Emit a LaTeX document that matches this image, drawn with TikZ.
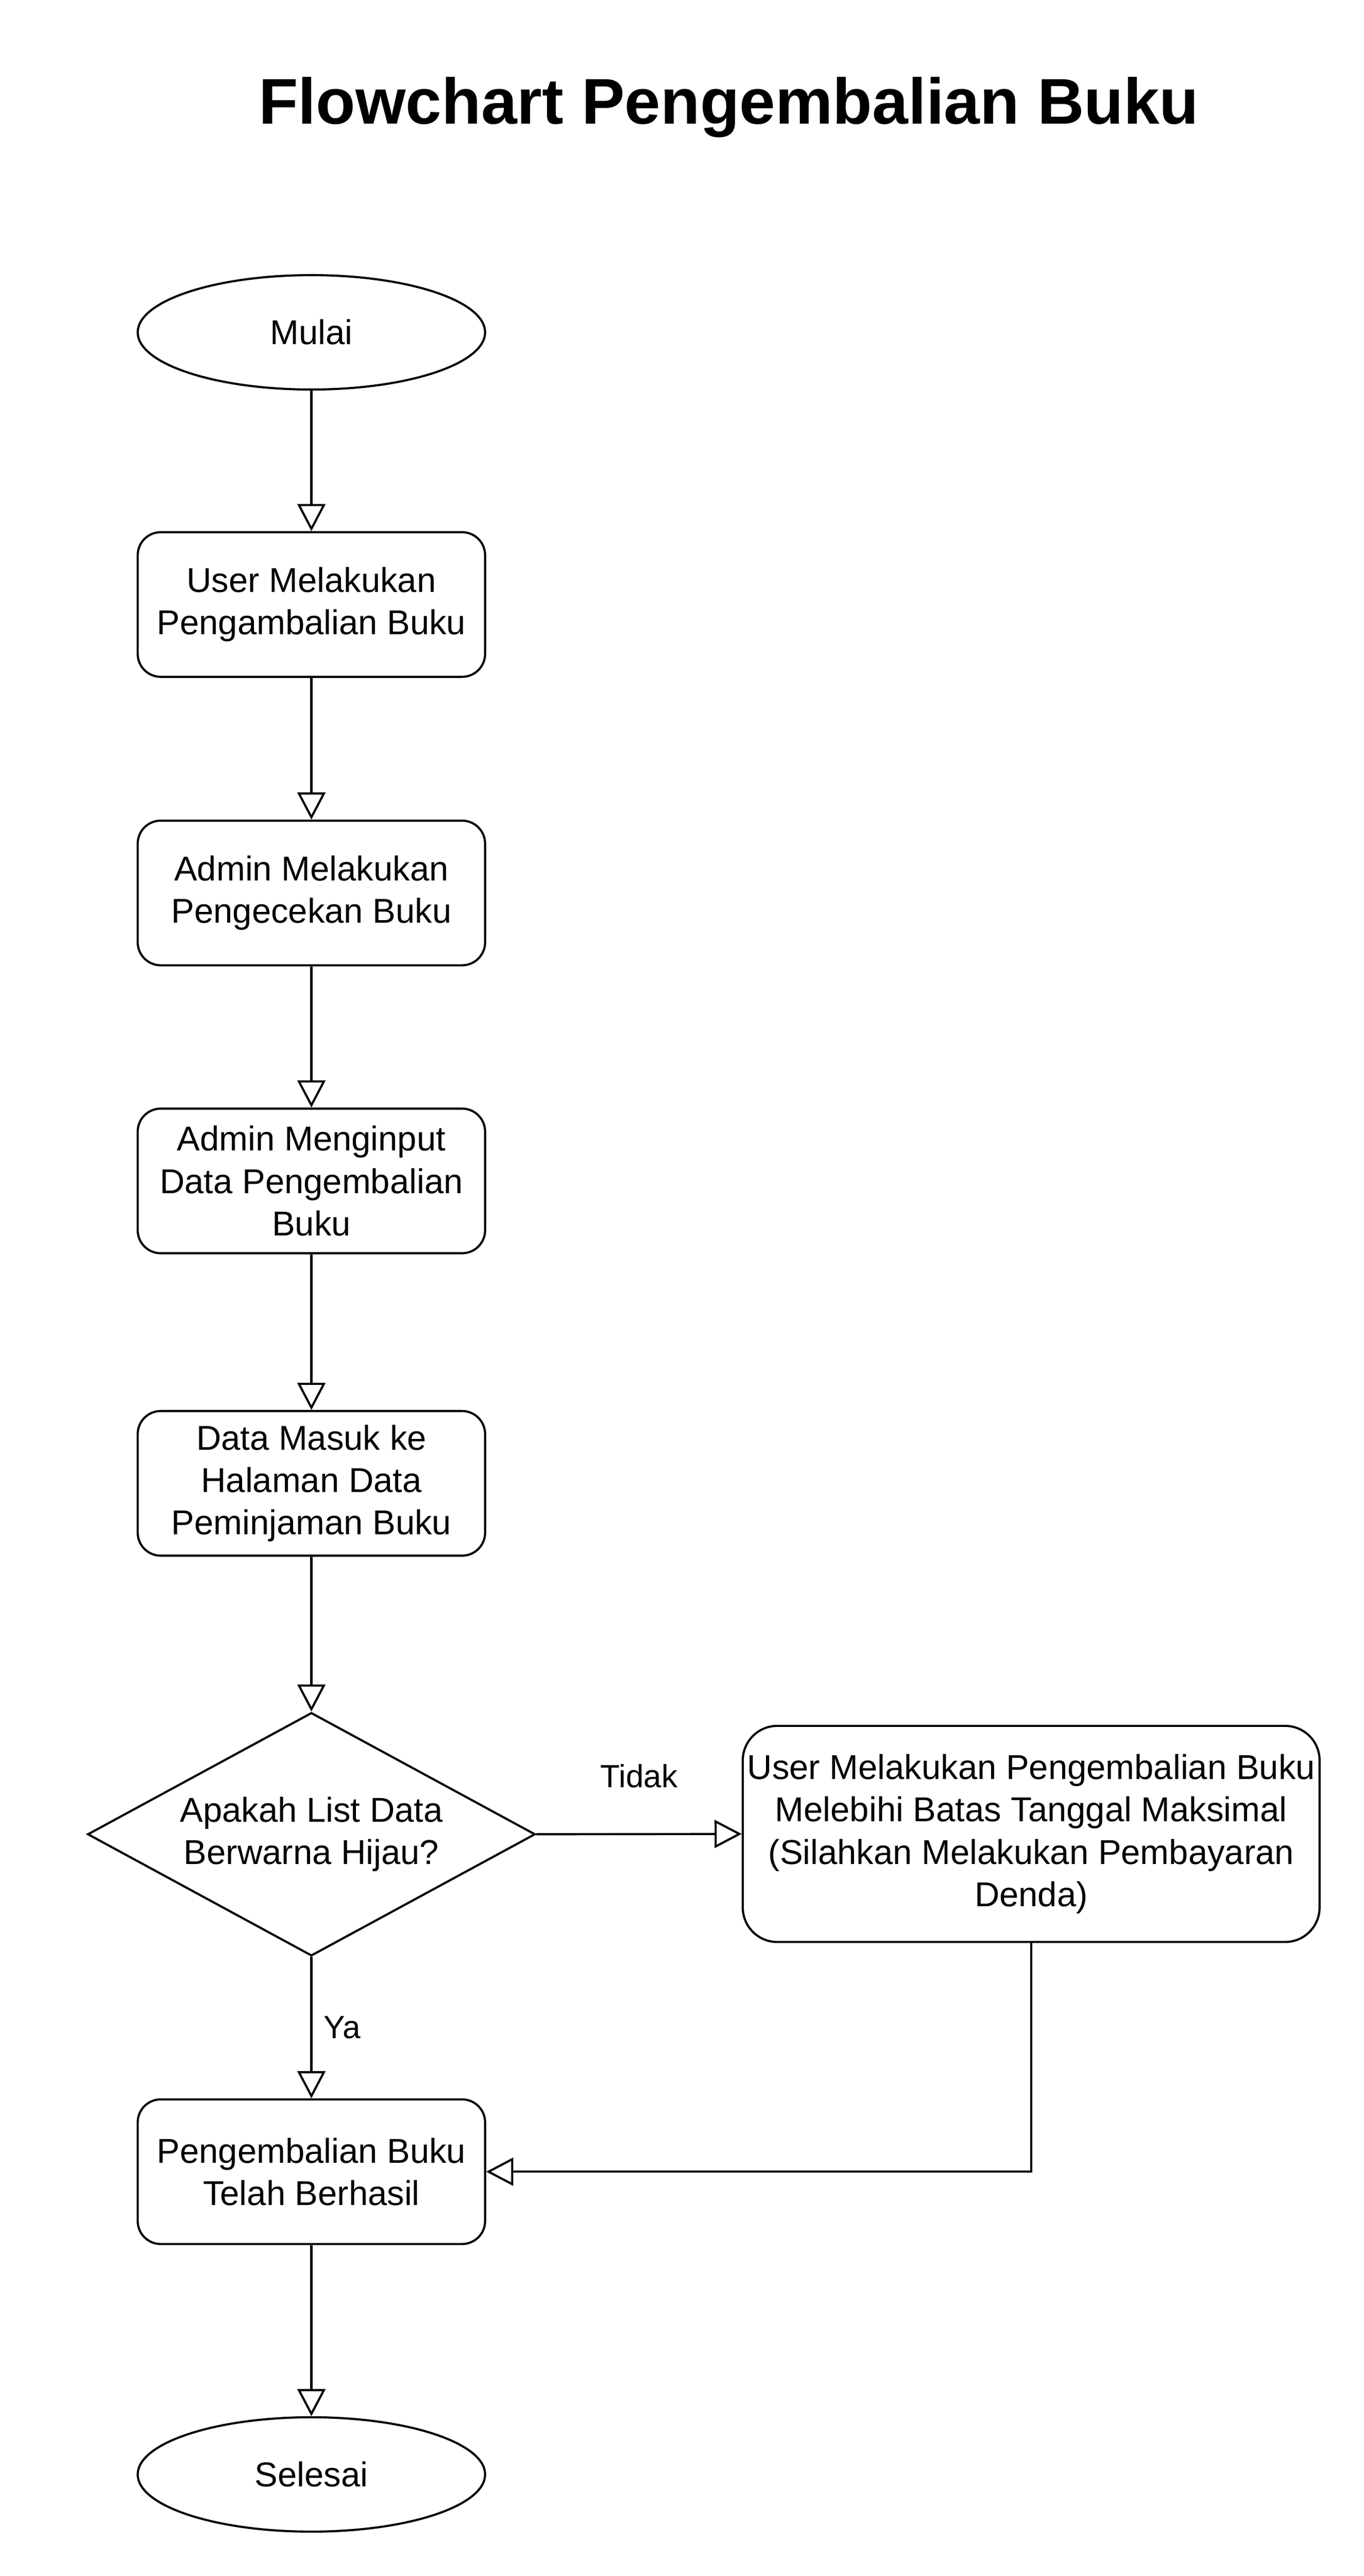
\documentclass[tikz,border=0pt]{standalone}
\usepackage{fontspec}
\setmainfont{Liberation Sans}
\usetikzlibrary{arrows.meta,shapes.geometric}
\def\teks{\fontsize{21}{25.8}\selectfont}
\def\tekslabel{\fontsize{19.5}{23}\selectfont}
\tikzset{
	judulteks/.style={font=\fontsize{39.3}{47}\selectfont\bfseries, inner sep=0pt},
	proses/.style={draw, line width=1.3pt, rounded corners=14pt, minimum width=211.4pt, minimum height=88pt, align=center, inner sep=1pt, font=\teks},
	terminal/.style={draw, ellipse, line width=1.3pt, minimum width=211.4pt, minimum height=69.6pt, inner sep=0pt, font=\teks},
	keputusan/.style={draw, diamond, aspect=1.84, line width=1.3pt, minimum width=272.4pt, minimum height=148pt, align=center, inner sep=0pt, font=\teks},
	alur/.style={line width=1.3pt, -{Triangle[open, length=16.5pt, width=17pt]}},
	ket/.style={font=\tekslabel, inner sep=0pt}
}

\begin{document}
\begin{tikzpicture}[x=1pt, y=-1pt]
	%%%%% START %%%%%
	
	\useasboundingbox (0, 0) rectangle (830, 1567.3);
	
	\node[judulteks, anchor=base] (judul) at (443.5, 75.3) {Flowchart Pengembalian Buku};
	
	\node[terminal] (mulai) at (189.5, 202.2) {Mulai};
	\node[proses] (ambil) at (189.5, 367.8) {User Melakukan\\Pengambalian Buku};
	\node[proses] (periksa) at (189.5, 543.3) {Admin Melakukan\\Pengecekan Buku};
	\node[proses] (input) at (189.5, 718.5) {Admin Menginput\\Data Pengembalian\\Buku};
	\node[proses] (masuk) at (189.5, 902.5) {Data Masuk ke\\Halaman Data\\Peminjaman Buku};
	
	\node[keputusan] (hijau) at (189.5, 1116) {Apakah List Data\\Berwarna Hijau?};
	\node[proses, minimum width=351pt, minimum height=131.5pt, rounded corners=21pt] (denda) at (627.5, 1115.8) {User Melakukan Pengembalian Buku\\Melebihi Batas Tanggal Maksimal\\(Silahkan Melakukan Pembayaran\\Denda)};
	
	\node[proses] (berhasil) at (189.5, 1321.3) {Pengembalian Buku\\Telah Berhasil};
	\node[terminal] (selesai) at (189.5, 1505.5) {Selesai};
	
	\draw[alur] (mulai) -- (ambil);
	\draw[alur] (ambil) -- (periksa);
	\draw[alur] (periksa) -- (input);
	\draw[alur] (input) -- (masuk);
	\draw[alur] (masuk) -- (hijau);
	
	\draw[alur] (hijau.east) -- node[ket, anchor=base, yshift=28.5pt] {Tidak} (denda.west);
	\draw[alur] (hijau) -- node[ket, anchor=west, xshift=7pt] {Ya} (berhasil);
	\draw[alur] (denda) |- (berhasil);
	
	\draw[alur] (berhasil) -- (selesai);
	
	%%%%% END %%%%%
\end{tikzpicture}
\end{document}
